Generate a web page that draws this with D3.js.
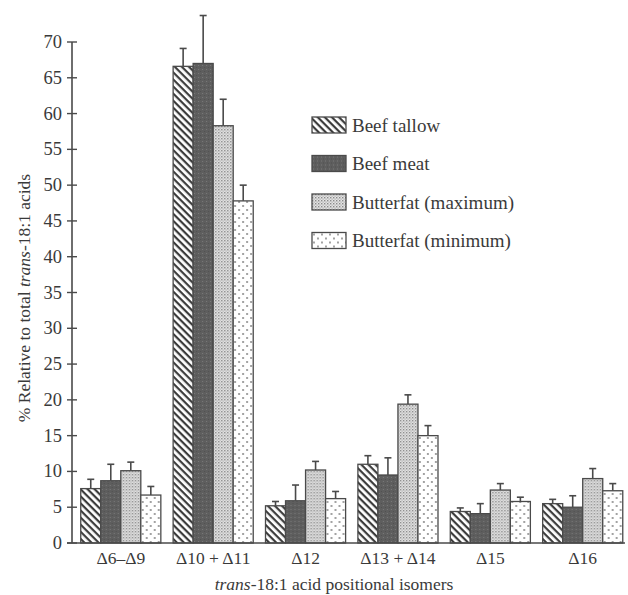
<!DOCTYPE html>
<html>
<head>
<meta charset="utf-8">
<script src="https://cdn.jsdelivr.net/npm/d3@7"></script>
<style>
  html, body { margin: 0; padding: 0; background: #fff; }
  svg text { font-family: "Liberation Serif", "DejaVu Serif", serif; fill: #3a3a3a; }
</style>
</head>
<body>
<svg id="chart" width="628" height="595"></svg>
<script>
// isomer groups on the x axis
var categories = ['\u03946\u2013\u03949', '\u039410 + \u039411', '\u039412', '\u039413 + \u039414', '\u039415', '\u039416'];
var seriesNames = ['Beef tallow', 'Beef meat', 'Butterfat (maximum)', 'Butterfat (minimum)'];

// mean % of total trans-18:1
var tallow = [7.6, 66.6, 5.2, 11.0, 4.4, 5.5];
var meat = [8.7, 67.0, 5.9, 9.5, 4.1, 5.0];
var butterMax = [10.1, 58.3, 10.2, 19.4, 7.4, 9.0];
var butterMin = [6.7, 47.8, 6.2, 15.0, 5.8, 7.3];

// upward error bar lengths
var tallowErr = [1.3, 2.5, 0.6, 1.2, 0.5, 0.6];
var meatErr = [2.3, 6.7, 2.2, 2.4, 1.4, 1.6];
var butterMaxErr = [1.2, 3.7, 1.2, 1.3, 0.9, 1.4];
var butterMinErr = [1.2, 2.2, 1.0, 1.4, 0.6, 1.0];

var yTicks = [0, 5, 10, 15, 20, 25, 30, 35, 40, 45, 50, 55, 60, 65, 70];

var values = [tallow, meat, butterMax, butterMin];
var errors = [tallowErr, meatErr, butterMaxErr, butterMinErr];
var fills = ['url(#pTallow)', 'url(#pMeat)', 'url(#pMax)', 'url(#pMin)'];
var ink = '#4a4a4a';

var svg = d3.select('#chart');

// hatch / dot patterns standing in for the print screens
var defs = svg.append('defs');

var p1 = defs.append('pattern').attr('id', 'pTallow')
  .attr('patternUnits', 'userSpaceOnUse').attr('width', 5).attr('height', 5)
  .attr('patternTransform', 'rotate(45)');
p1.append('rect').attr('width', 5).attr('height', 5).attr('fill', '#fff');
p1.append('rect').attr('x', 0).attr('y', 0).attr('width', 5).attr('height', 2.2).attr('fill', '#3c3c3c');

var p2 = defs.append('pattern').attr('id', 'pMeat')
  .attr('patternUnits', 'userSpaceOnUse').attr('width', 4).attr('height', 4);
p2.append('rect').attr('width', 4).attr('height', 4).attr('fill', '#5e5e5e');
p2.append('rect').attr('x', 1).attr('y', 1).attr('width', 1).attr('height', 1).attr('fill', '#7a7a7a');
p2.append('rect').attr('x', 3).attr('y', 3).attr('width', 1).attr('height', 1).attr('fill', '#505050');

var p3 = defs.append('pattern').attr('id', 'pMax')
  .attr('patternUnits', 'userSpaceOnUse').attr('width', 3).attr('height', 3);
p3.append('rect').attr('width', 3).attr('height', 3).attr('fill', '#e4e4e4');
p3.append('rect').attr('x', 0).attr('y', 0).attr('width', 1.4).attr('height', 1.4).attr('fill', '#8a8a8a');
p3.append('rect').attr('x', 1.5).attr('y', 1.5).attr('width', 1.2).attr('height', 1.2).attr('fill', '#a8a8a8');

var p4 = defs.append('pattern').attr('id', 'pMin')
  .attr('patternUnits', 'userSpaceOnUse').attr('width', 8).attr('height', 8);
p4.append('rect').attr('width', 8).attr('height', 8).attr('fill', '#fff');
p4.append('circle').attr('cx', 2).attr('cy', 2).attr('r', 0.9).attr('fill', '#777');
p4.append('circle').attr('cx', 6).attr('cy', 6).attr('r', 0.9).attr('fill', '#777');

var x = d3.scaleBand().domain(categories).range([71.5, 632])
  .paddingInner(0.133).paddingOuter(0.1);
var xs = d3.scaleBand().domain(seriesNames).range([0, x.bandwidth()]);
var y = d3.scaleLinear().domain([0, 70]).range([543, 42]);

var axisX0 = 72;

// bars
var groups = svg.append('g').selectAll('g')
  .data(categories)
  .enter().append('g')
  .attr('transform', function(d) { return 'translate(' + x(d) + ',0)'; });

groups.each(function(cat, ci) {
  var g = d3.select(this);
  seriesNames.forEach(function(s, si) {
    var v = values[si][ci], e = errors[si][ci];
    var cx = xs(s) + xs.bandwidth() / 2;
    // error bar first so bar outline sits on top of its foot
    g.append('line')
      .attr('x1', cx).attr('x2', cx)
      .attr('y1', y(v)).attr('y2', y(v + e))
      .attr('stroke', ink).attr('stroke-width', 1.6);
    g.append('line')
      .attr('x1', cx - 3.5).attr('x2', cx + 3.5)
      .attr('y1', y(v + e)).attr('y2', y(v + e))
      .attr('stroke', ink).attr('stroke-width', 1.6);
    g.append('rect')
      .attr('x', xs(s)).attr('width', xs.bandwidth())
      .attr('y', y(v)).attr('height', y(0) - y(v))
      .attr('fill', fills[si])
      .attr('stroke', ink).attr('stroke-width', 1.3);
  });
});

// y axis with crossing ticks
var yAxis = svg.append('g');
yAxis.append('line')
  .attr('x1', axisX0).attr('x2', axisX0)
  .attr('y1', y(0)).attr('y2', y(70))
  .attr('stroke', ink).attr('stroke-width', 1.6);
yAxis.selectAll('.tk').data(yTicks).enter().append('line')
  .attr('x1', axisX0 - 5).attr('x2', axisX0 + 5)
  .attr('y1', function(d) { return y(d); }).attr('y2', function(d) { return y(d); })
  .attr('stroke', ink).attr('stroke-width', 1.4);
yAxis.selectAll('.lb').data(yTicks).enter().append('text')
  .attr('x', 62).attr('y', function(d) { return y(d) + 6; })
  .attr('text-anchor', 'end')
  .attr('font-size', 18.5)
  .text(function(d) { return d; });

// x axis baseline
svg.append('line')
  .attr('x1', axisX0 - 5).attr('x2', 625)
  .attr('y1', y(0)).attr('y2', y(0))
  .attr('stroke', ink).attr('stroke-width', 1.6);

svg.append('g').selectAll('text')
  .data(categories)
  .enter().append('text')
  .attr('x', function(d) { return x(d) + x.bandwidth() / 2; })
  .attr('y', 564)
  .attr('text-anchor', 'middle')
  .attr('font-size', 17.5)
  .text(function(d) { return d; });

// axis titles
var xt = svg.append('text')
  .attr('x', 334).attr('y', 590)
  .attr('text-anchor', 'middle')
  .attr('font-size', 17.5);
xt.append('tspan').attr('font-style', 'italic').text('trans');
xt.append('tspan').text('-18:1 acid positional isomers');

var yt = svg.append('text')
  .attr('transform', 'translate(30,298) rotate(-90)')
  .attr('text-anchor', 'middle')
  .attr('font-size', 17.5);
yt.append('tspan').text('% Relative to total ');
yt.append('tspan').attr('font-style', 'italic').text('trans');
yt.append('tspan').text('-18:1 acids');

// legend
var legend = svg.append('g').attr('transform', 'translate(312,117)');
var lg = legend.selectAll('g')
  .data(seriesNames)
  .enter().append('g')
  .attr('transform', function(d, i) { return 'translate(0,' + (i * 38.5) + ')'; });
lg.append('rect')
  .attr('width', 34).attr('height', 16)
  .attr('fill', function(d, i) { return fills[i]; })
  .attr('stroke', ink).attr('stroke-width', 1.3);
lg.append('text')
  .attr('x', 40).attr('y', 14.5)
  .attr('font-size', 19)
  .text(function(d) { return d; });
</script>
</body>
</html>
